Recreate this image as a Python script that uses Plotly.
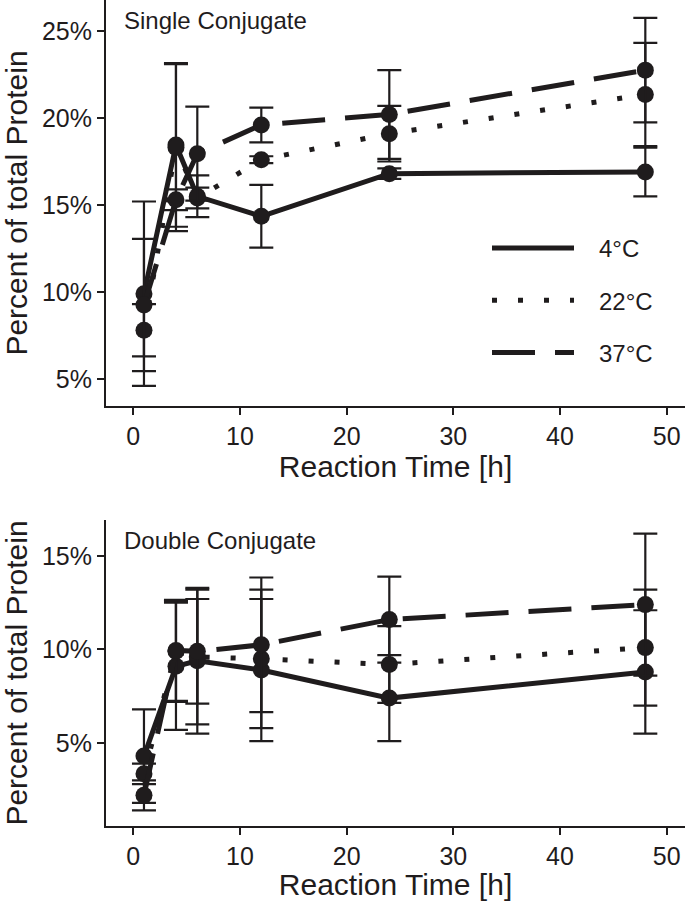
import plotly.graph_objects as go

# ---------------- data ----------------
times = [1, 4, 6, 12, 24, 48]
temps = ["4°C", "22°C", "37°C"]

single_4C = [9.9, 18.45, 15.5, 14.35, 16.8, 16.9]
single_4C_err = [5.3, 4.7, 1.2, 1.8, 0.3, 1.4]
single_22C = [7.8, 18.3, 15.4, 17.6, 19.1, 21.35]
single_22C_err = [1.5, 4.8, 0.6, 0.2, 1.6, 2.97]
single_37C = [9.25, 15.3, 17.95, 19.6, 20.2, 22.75]
single_37C_err = [3.8, 0.6, 2.7, 1.0, 2.55, 3.0]

double_4C = [4.3, 9.1, 9.4, 8.9, 7.4, 8.8]
double_4C_err = [2.5, 3.4, 3.9, 3.8, 2.3, 3.3]
double_22C = [3.35, 9.9, 9.6, 9.5, 9.2, 10.1]
double_22C_err = [0.55, 2.7, 3.6, 3.7, 2.05, 3.1]
double_37C = [2.2, 9.95, 9.9, 10.25, 11.6, 12.4]
double_37C_err = [0.8, 2.7, 2.8, 3.6, 2.3, 3.8]

x_ticks = [0, 10, 20, 30, 40, 50]
single_y_ticks = [5, 10, 15, 20, 25]
double_y_ticks = [5, 10, 15]

# ---------------- style ----------------
INK = "#1f1c1d"
FONT = "Liberation Sans, Arial, sans-serif"
dashes = {"4°C": "solid", "22°C": "5px,21px", "37°C": "43px,20px"}
NB = "\u00a0"

fig = go.Figure()

panels = [
    ("x", "y", [single_4C, single_22C, single_37C], [single_4C_err, single_22C_err, single_37C_err]),
    ("x2", "y2", [double_4C, double_22C, double_37C], [double_4C_err, double_22C_err, double_37C_err]),
]
for xa, ya, vals, errs in panels:
    for t, v, e in zip(temps, vals, errs):
        fig.add_trace(go.Scatter(
            x=times, y=v, xaxis=xa, yaxis=ya, mode="lines+markers",
            line=dict(color=INK, width=5, dash=dashes[t]),
            marker=dict(color=INK, size=17),
            error_y=dict(type="data", array=e, visible=True, color=INK,
                         thickness=2.2, width=12),
            showlegend=False, name=t,
        ))

# legend entries (lines only)
for t in temps:
    fig.add_trace(go.Scatter(
        x=[None], y=[None], xaxis="x", yaxis="y", mode="lines", name=NB * 3 + t,
        legendgroup=t,
        line=dict(color=INK, width=5, dash=dashes[t]),
        showlegend=True,
    ))

axis_common = dict(
    showline=True, linecolor=INK, linewidth=2,
    ticks="outside", ticklen=7, tickwidth=2, tickcolor=INK,
    showgrid=False, zeroline=False, automargin=False,
    tickfont=dict(family=FONT, size=25, color=INK),
)

TOTAL_H = 826.0
top_dom = [(TOTAL_H - 406) / TOTAL_H, 1.0]
bot_dom = [0.0, (TOTAL_H - 520) / TOTAL_H]

def pct(vals):
    return [f"{v}%" for v in vals]

title_font = dict(size=30, family=FONT, color=INK)

fig.update_layout(
    width=685, height=901,
    margin=dict(l=106, r=0, t=0, b=75, autoexpand=False),
    paper_bgcolor="white", plot_bgcolor="white",
    font=dict(family=FONT, color=INK),
    hovermode=False,
    xaxis=dict(domain=[0, 1], anchor="y", range=[-2.56, 51.72], tickvals=x_ticks,
               title=dict(text="Reaction Time [h]", font=title_font, standoff=0),
               **axis_common),
    yaxis=dict(domain=top_dom, anchor="x", range=[3.448, 26.78], tickvals=single_y_ticks,
               ticktext=pct(single_y_ticks),
               title=dict(text="Percent of total Protein", font=title_font, standoff=26),
               **axis_common),
    xaxis2=dict(domain=[0, 1], anchor="y2", range=[-2.56, 51.72], tickvals=x_ticks,
                title=dict(text="Reaction Time [h]", font=title_font, standoff=0),
                **axis_common),
    yaxis2=dict(domain=bot_dom, anchor="x2", range=[0.561, 16.925], tickvals=double_y_ticks,
                ticktext=pct(double_y_ticks),
                title=dict(text="Percent of total Protein", font=title_font, standoff=26),
                **axis_common),
    legend=dict(x=(487 - 106) / 579, y=(TOTAL_H - 226) / TOTAL_H, xanchor="left", yanchor="top",
                bgcolor="rgba(0,0,0,0)", font=dict(size=24, family=FONT, color=INK),
                itemwidth=82, tracegroupgap=18),
    annotations=[
        dict(text="Single Conjugate", xref="paper", yref="paper",
             x=(122 - 106) / 579, y=(TOTAL_H - 20) / TOTAL_H, xanchor="left", yanchor="middle",
             showarrow=False, font=dict(size=24, family=FONT, color=INK)),
        dict(text="Double Conjugate", xref="paper", yref="paper",
             x=(122 - 106) / 579, y=(TOTAL_H - 540) / TOTAL_H, xanchor="left", yanchor="middle",
             showarrow=False, font=dict(size=24, family=FONT, color=INK)),
    ],
)

fig.write_html("out.html", config={"displayModeBar": False},
               post_script="document.body.style.margin='0';")
